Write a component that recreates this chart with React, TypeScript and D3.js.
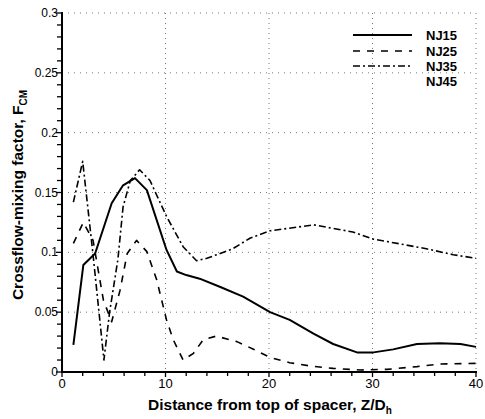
import React from "react";
import * as d3 from "d3";

const nj15X = [1.1, 2.06, 3.2, 4.8, 5.9, 7.05, 8.2, 10.1, 11.1, 12.0, 13.3, 15.3, 17.5, 20.1, 22.0, 24.3, 26.2, 28.5, 30.1, 32.0, 34.3, 36.5, 38.5, 40];
const nj15Y = [0.0226, 0.0894, 0.099, 0.141, 0.156, 0.162, 0.152, 0.102, 0.084, 0.081, 0.078, 0.071, 0.063, 0.05, 0.0435, 0.032, 0.0234, 0.0164, 0.0164, 0.0189, 0.0234, 0.024, 0.0234, 0.021];

const nj25X = [1.1, 2.06, 3.0, 4.0, 4.8, 5.6, 6.3, 7.2, 8.2, 9.15, 10.1, 10.75, 11.7, 12.7, 13.65, 14.9, 16.9, 18.5, 20.1, 22, 24, 26.2, 28.8, 31.4, 34.3, 36.5, 40];
const nj25Y = [0.1075, 0.125, 0.11, 0.06, 0.042, 0.068, 0.099, 0.11, 0.1006, 0.077, 0.0435, 0.027, 0.01, 0.0156, 0.027, 0.03, 0.0254, 0.019, 0.0122, 0.0078, 0.005, 0.003, 0.0017, 0.0022, 0.0045, 0.0067, 0.0072];

const nj35X = [1.1, 2.0, 3.0, 4.05, 4.6, 5.4, 5.9, 6.6, 7.5, 8.5, 10.1, 11.7, 13.0, 14.0, 16.5, 18.2, 20.1, 22.7, 24.3, 26.2, 28.1, 30.1, 32.7, 35.2, 37.8, 40];
const nj35Y = [0.142, 0.176, 0.098, 0.01, 0.05, 0.094, 0.138, 0.16, 0.169, 0.16, 0.13, 0.1047, 0.093, 0.095, 0.103, 0.112, 0.118, 0.121, 0.123, 0.12, 0.117, 0.111, 0.107, 0.103, 0.098, 0.095];

const seriesNames = ["NJ15", "NJ25", "NJ35", "NJ45"];
const xTicks = [0, 10, 20, 30, 40];
const yTicks = [0, 0.05, 0.1, 0.15, 0.2, 0.25, 0.3];
const yTickLabels = ["0", "0.05", "0.1", "0.15", "0.2", "0.25", "0.3"];

const W = 485;
const H = 419;
const left = 62;
const right = 476;
const top = 13;
const bottom = 372;
const FONT = "Liberation Sans, Arial, sans-serif";

export default function App() {
  const x = d3.scaleLinear().domain([0, 40]).range([left, right]);
  const y = d3.scaleLinear().domain([0, 0.3]).range([bottom, top]);
  const line = d3
    .line<[number, number]>()
    .x((d) => x(d[0]))
    .y((d) => y(d[1]));
  const zip = (a: number[], b: number[]) => a.map((v, i) => [v, b[i]] as [number, number]);

  const series = [
    { name: seriesNames[0], pts: zip(nj15X, nj15Y), dash: "", w: 2 },
    { name: seriesNames[1], pts: zip(nj25X, nj25Y), dash: "7,7", w: 1.6 },
    { name: seriesNames[2], pts: zip(nj35X, nj35Y), dash: "7,3,2,3", w: 1.6 },
  ];

  const xMinor = d3.range(0, 40.01, 2);
  const yMinor = d3.range(0, 0.3001, 0.01);

  const legendY = [35, 51, 66, 81];

  return (
    <svg width={W} height={H} style={{ position: "absolute", left: 0, top: 0, background: "#fff" }}>
      <rect width={W} height={H} fill="#fff" />
      {xTicks.slice(1).map((t) => (
        <line key={"gx" + t} x1={x(t)} x2={x(t)} y1={top} y2={bottom} stroke="#777" strokeWidth={1} strokeDasharray="1,4" />
      ))}
      {yTicks.slice(1).map((t) => (
        <line key={"gy" + t} x1={left} x2={right} y1={y(t)} y2={y(t)} stroke="#777" strokeWidth={1} strokeDasharray="1,5" />
      ))}
      {series.map((s) => (
        <path key={s.name} d={line(s.pts) || ""} fill="none" stroke="#000" strokeWidth={s.w} strokeDasharray={s.dash || undefined} strokeLinejoin="round" />
      ))}
      <line x1={left} x2={right + 1} y1={bottom} y2={bottom} stroke="#000" strokeWidth={2} />
      <line x1={left} x2={left} y1={top - 1} y2={bottom + 1} stroke="#000" strokeWidth={2} />
      {xMinor.map((t) => (
        <line key={"xt" + t} x1={x(t)} x2={x(t)} y1={bottom} y2={bottom + (t % 10 === 0 ? 5 : 4)} stroke="#000" strokeWidth={1.3} />
      ))}
      {yMinor.map((t, i) => (
        <line key={"yt" + i} x1={left - (i % 5 === 0 ? 6 : 5)} x2={left} y1={y(t)} y2={y(t)} stroke="#000" strokeWidth={1.3} />
      ))}
      {xTicks.map((t) => (
        <text key={"xl" + t} x={x(t)} y={bottom + 16} textAnchor="middle" fontFamily={FONT} fontSize={13}>
          {t}
        </text>
      ))}
      {yTicks.map((t, i) => (
        <text key={"yl" + i} x={left - 4} y={y(t) + 4} textAnchor="end" fontFamily={FONT} fontSize={12}>
          {yTickLabels[i]}
        </text>
      ))}
      <text x={270} y={410} textAnchor="middle" fontFamily={FONT} fontSize={15.5} fontWeight="bold">
        Distance from top of spacer, Z/D
        <tspan fontSize={10} dy={4}>h</tspan>
      </text>
      <text transform={`translate(23,${195}) rotate(-90)`} textAnchor="middle" fontFamily={FONT} fontSize={15.5} fontWeight="bold">
        Crossflow-mixing factor, F
        <tspan fontSize={10} dy={4}>CM</tspan>
      </text>
      {seriesNames.map((n, i) => (
        <g key={"lg" + n}>
          {i < 3 && (
            <line x1={353} x2={412} y1={legendY[i]} y2={legendY[i]} stroke="#000" strokeWidth={series[i].w} strokeDasharray={series[i].dash || undefined} />
          )}
          <text x={426} y={legendY[i] + 5} fontFamily={FONT} fontSize={13} fontWeight="bold">
            {n}
          </text>
        </g>
      ))}
    </svg>
  );
}
